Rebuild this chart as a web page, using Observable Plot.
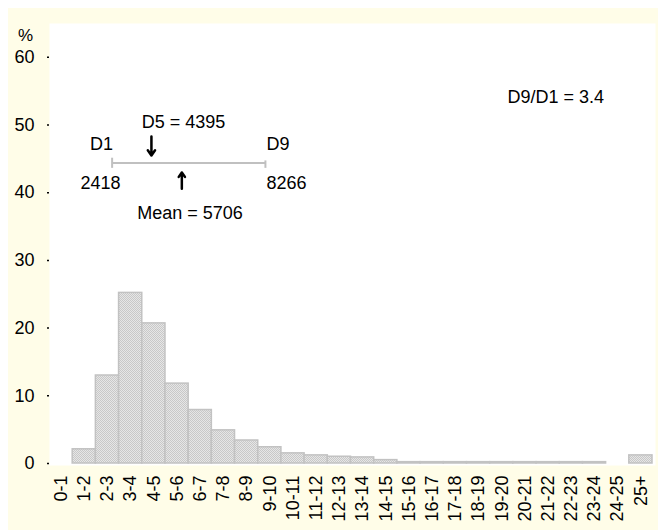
<!DOCTYPE html>
<html><head><meta charset="utf-8">
<script src="https://cdn.jsdelivr.net/npm/d3@7"></script>
<script src="https://cdn.jsdelivr.net/npm/@observablehq/plot@0.6"></script>
<style>
html,body{margin:0;padding:0;background:#ffffff;}
#chart{position:absolute;left:8px;top:8px;width:650px;height:522px;background:#fffde8;overflow:hidden;}
</style></head><body><div id="chart"></div>
<script>
// ---- data ----
const categories = ["0-1","1-2","2-3","3-4","4-5","5-6","6-7","7-8","8-9","9-10","10-11","11-12","12-13","13-14","14-15","15-16","16-17","17-18","18-19","19-20","20-21","21-22","22-23","23-24","24-25","25+"];
const shares = [0, 2.1, 13.0, 25.2, 20.7, 11.8, 7.9, 4.9, 3.4, 2.4, 1.5, 1.2, 1.0, 0.9, 0.5, 0.2, 0.2, 0.2, 0.2, 0.2, 0.2, 0.2, 0.2, 0.2, 0, 1.2];
const yTicks = [0, 10, 20, 30, 40, 50, 60];
const yUnit = "%";
const decileNames = ["D1", "D5", "D9"];
const decileValues = [2418, 4395, 8266];
const meanValue = 5706;
const ratioText = "D9/D1 = 3.4";

// ---- tables built from the arrays ----
const bars = categories.map((c, i) => ({cat: c, x1: i, x2: i + 1, share: shares[i]}));
const tickPos = categories.map((c, i) => i + 0.5);
const d1 = decileValues[0], d5 = decileValues[1], d9 = decileValues[2];

// annotation layout (in x-bin units / y percentage units)
const bracket = {x1: 2.70, x2: 9.31, y: 44.4};
const font = "Arial, 'Liberation Sans', Helvetica, sans-serif";

const plot = Plot.plot({
  width: 650, height: 522,
  marginLeft: 41, marginRight: 6, marginTop: 15, marginBottom: 67,
  style: {fontFamily: font, fontSize: "18px", background: "transparent", color: "#000"},
  x: {domain: [0, categories.length], axis: null},
  y: {domain: [0, 65], axis: null},
  marks: [
    Plot.frame({fill: "white", stroke: null, insetRight: -3, insetBottom: -2}),
    Plot.rectY(bars, {x1: "x1", x2: "x2", y: "share", fill: "url(#hatch)", stroke: "#c2c2c2", strokeWidth: 1.5}),
    Plot.axisY(yTicks, {anchor: "left", tickSize: 2, tickPadding: 13, fontSize: 18, label: null, strokeWidth: 1.5}),
    Plot.axisX(tickPos, {anchor: "bottom", tickFormat: d => categories[Math.floor(d)], tickRotate: -90, tickSize: 0, tickPadding: 12, fontSize: 18, label: null}),
    Plot.text([yUnit], {frameAnchor: "top-left", text: d => d, dx: -24, dy: 5, textAnchor: "middle", fontSize: 17}),
    // bracket D1 - D9
    Plot.link([bracket], {x1: "x1", x2: "x2", y1: "y", y2: "y", stroke: "#c0c0c0", strokeWidth: 2}),
    Plot.ruleX([bracket.x1], {y1: 43.6, y2: 45.1, stroke: "#c0c0c0", strokeWidth: 2}),
    Plot.ruleX([bracket.x2], {y1: 43.6, y2: 44.7, stroke: "#c0c0c0", strokeWidth: 2}),
    Plot.text([decileNames[0]], {x: 2.24, y: 47.1, text: d => d, fontSize: 18}),
    Plot.text([decileNames[2]], {x: 9.85, y: 47.1, text: d => d, fontSize: 18}),
    Plot.text([d1], {x: 2.20, y: 41.4, text: d => String(d), fontSize: 18}),
    Plot.text([d9], {x: 10.22, y: 41.4, text: d => String(d), fontSize: 18}),
    Plot.text([d5], {x: 5.78, y: 50.4, text: d => `${decileNames[1]} = ${d}`, fontSize: 18}),
    Plot.arrow([d5], {x1: d => d / 1000, x2: d => d / 1000, y1: 48.3, y2: 45.5, stroke: "#000", strokeWidth: 2.5, headLength: 9, headAngle: 70}),
    Plot.arrow([meanValue], {x1: d => d / 1000, x2: d => d / 1000, y1: 40.6, y2: 43.0, stroke: "#000", strokeWidth: 2.5, headLength: 9, headAngle: 70}),
    Plot.text([meanValue], {x: 6.06, y: 36.9, text: d => `Mean = ${d}`, fontSize: 18}),
    Plot.text([ratioText], {x: 21.83, y: 54.1, text: d => d, fontSize: 18})
  ]
});

const ns = "http://www.w3.org/2000/svg";
const defs = document.createElementNS(ns, "defs");
defs.innerHTML = '<pattern id="hatch" width="2" height="2" patternUnits="userSpaceOnUse"><rect width="2" height="2" fill="#e6e6e6"/><rect width="1" height="1" fill="#c8c8c8"/><rect x="1" y="1" width="1" height="1" fill="#c8c8c8"/></pattern>';
plot.insertBefore(defs, plot.firstChild);
document.getElementById("chart").appendChild(plot);
</script>
</body></html>
